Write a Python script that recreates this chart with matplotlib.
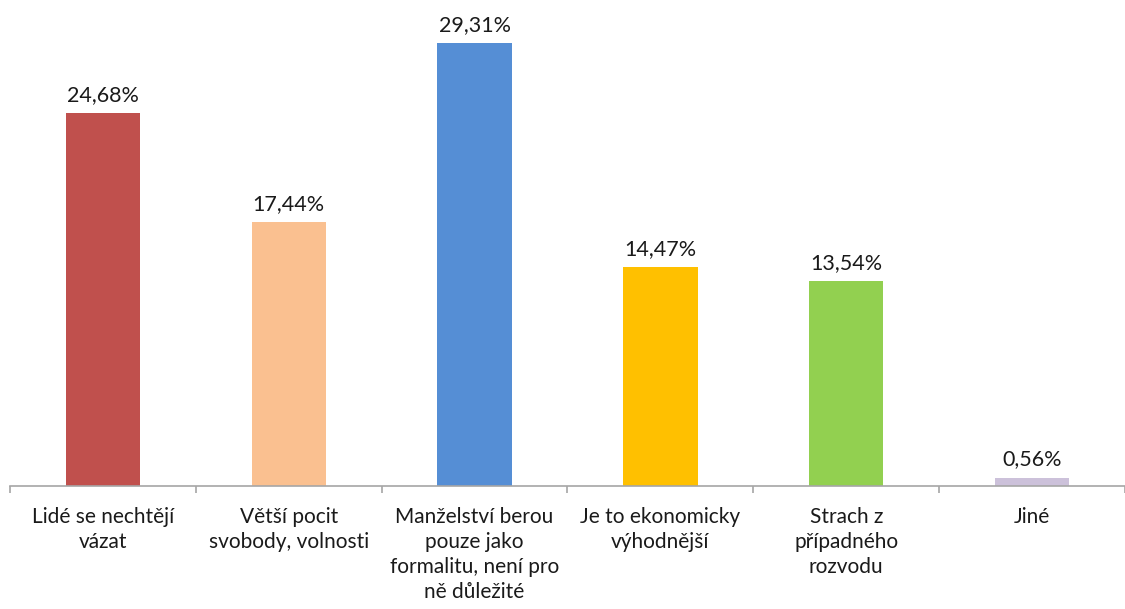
import matplotlib
matplotlib.use("Agg")
import matplotlib.pyplot as plt
import numpy as np

# Data
kategorie = ["Lidé se nechtějí\nvázat",
             "Větší pocit\nsvobody, volnosti",
             "Manželství berou\npouze jako\nformalitu, není pro\nně důležité",
             "Je to ekonomicky\nvýhodnější",
             "Strach z\npřípadného\nrozvodu",
             "Jiné"]
hodnoty = [24.68, 17.44, 29.31, 14.47, 13.54, 0.56]
popisky = ["24,68%", "17,44%", "29,31%", "14,47%", "13,54%", "0,56%"]
barvy = ["#C0504D", "#FAC090", "#558ED5", "#FFC000", "#92D050", "#CCC1DA"]

plt.rcParams['font.family'] = ['Lato', 'DejaVu Sans']

fig = plt.figure(figsize=(11.25, 6.09), dpi=100)
ax = fig.add_axes([10/1125, 1 - 486/609, 1115/1125, 486/609])

x = np.arange(len(hodnoty))
ax.bar(x, hodnoty, width=0.4, color=barvy)

for xi, h, t in zip(x, hodnoty, popisky):
    ax.annotate(t, (xi, h), xytext=(0, 6), textcoords="offset points",
                ha="center", va="bottom", fontsize=15.5, color="#1a1a1a")

ax.set_xlim(-0.5, len(hodnoty) - 0.5)
ax.set_ylim(0, 486 / 15.11)

for s in ["top", "right", "left"]:
    ax.spines[s].set_visible(False)
ax.spines["bottom"].set_color("#A6A6A6")
ax.spines["bottom"].set_linewidth(1.2)

ax.set_yticks([])
ax.set_xticks(x)
ax.set_xticklabels(kategorie, fontsize=15, color="#1a1a1a", linespacing=1.32)
ax.tick_params(axis="x", which="major", length=0, pad=15)
ax.set_xticks(np.arange(-0.5, len(hodnoty)), minor=True)
ax.tick_params(axis="x", which="minor", length=5, color="#A6A6A6", width=1.2)

fig.savefig("out.png", dpi=100, facecolor="white")
